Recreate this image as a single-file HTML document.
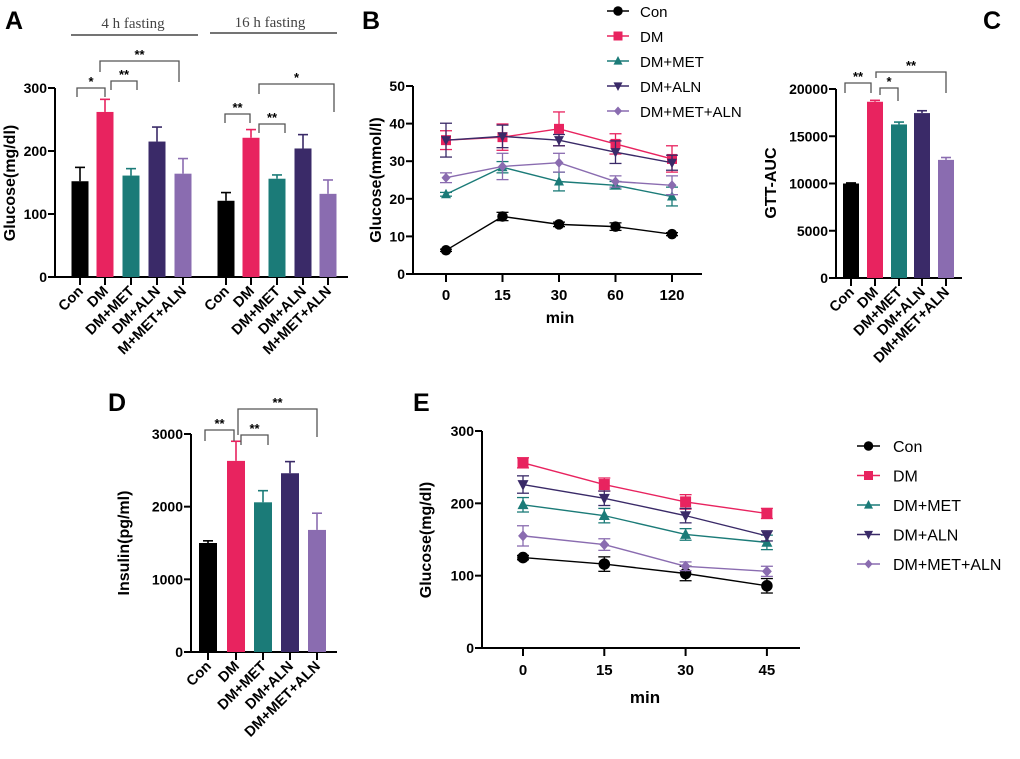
<!DOCTYPE html>
<html><head><meta charset="utf-8"><style>
html,body{margin:0;padding:0;background:#fff;}
svg{display:block;font-family:"Liberation Sans",Arial,sans-serif;}
</style></head><body>
<svg id="fig" width="1020" height="759" viewBox="0 0 1020 759" xmlns="http://www.w3.org/2000/svg"></svg>
<script>
const groups = ["Con","DM","DM+MET","DM+ALN","DM+MET+ALN"];
const groupsA = ["Con","DM","DM+MET","DM+ALN","M+MET+ALN"];
const colors = ["#000000","#e8235f","#1b7b78","#3a2a68","#8a6cb0"];
const markers = ["circle","square","tri-up","tri-down","diamond"];

const a4hMean = [152,262,161,215,164];
const a4hErr = [22,20,11,23,24];
const a16hMean = [121,221,156,204,132];
const a16hErr = [13,13,6,22,22];
const aTicks = [0,100,200,300];

const bTimes = ["0","15","30","60","120"];
const bTicks = [0,10,20,30,40,50];
const bMean = [
  [6.3,15.3,13.2,12.6,10.6],
  [35.6,36.4,38.6,34.6,30.6],
  [21.2,28.4,24.6,23.6,20.6],
  [35.6,36.6,35.6,32.4,29.6],
  [25.6,28.6,29.6,24.6,23.6]];
const bErr = [
  [0.3,1.1,0.6,1.0,0.4],
  [2.5,3.5,4.5,2.7,3.5],
  [0.5,1.5,2.5,1.0,2.5],
  [4.5,3.0,1.5,3.0,2.0],
  [1.3,3.5,2.5,1.5,2.5]];

const cMean = [10000,18650,16250,17450,12500];
const cErr = [60,150,250,250,250];
const cTicks = [0,5000,10000,15000,20000];

const dMean = [1500,2630,2060,2460,1680];
const dErr = [30,270,160,160,230];
const dTicks = [0,1000,2000,3000];

const eTimes = ["0","15","30","45"];
const eTicks = [0,100,200,300];
const eMean = [
  [125,116,103,86],
  [256,226,202,186],
  [198,183,157,146],
  [226,207,183,155],
  [155,143,113,106]];
const eErr = [
  [3,10,10,10],
  [7,9,10,7],
  [10,10,8,10],
  [12,10,10,7],
  [14,8,6,7]];

const svg = document.getElementById('fig');
const NS = "http://www.w3.org/2000/svg";
function el(tag, attrs, parent){
  const e = document.createElementNS(NS, tag);
  for (const k in attrs) e.setAttribute(k, attrs[k]);
  (parent||svg).appendChild(e);
  return e;
}
function txt(s, attrs, parent){ const t = el('text', attrs, parent); t.textContent = s; return t; }
function lin(x1,y1,x2,y2,c,w,parent){ return el('line',{x1,y1,x2,y2,stroke:c,'stroke-width':w},parent); }

function yAxis(g, x, y0, y1, vmin, vmax, ticks, fs){
  const sc = v => y0 - (v - vmin)/(vmax - vmin)*(y0 - y1);
  lin(x, y0+1, x, y1, '#000', 2, g);
  ticks.forEach(t=>{
    const y = sc(t);
    lin(x-7, y, x, y, '#000', 2, g);
    const l = txt(String(t), {x:x-8, y:y+5, 'text-anchor':'end','font-size':fs||14,'font-weight':'bold'}, g);
    
    
  });
  return sc;
}
function marker(g, type, x, y, c, s){
  let m;
  if (type==='circle') m = el('circle',{cx:x,cy:y,r:s*1.05,fill:c},g);
  else if (type==='square') m = el('rect',{x:x-s,y:y-s,width:2*s,height:2*s,fill:c},g);
  else if (type==='tri-up') m = el('polygon',{points:`${x},${y-s*1.1} ${x+s},${y+s*0.8} ${x-s},${y+s*0.8}`,fill:c},g);
  else if (type==='tri-down') m = el('polygon',{points:`${x},${y+s*1.1} ${x+s},${y-s*0.8} ${x-s},${y-s*0.8}`,fill:c},g);
  else m = el('polygon',{points:`${x},${y-s} ${x+s*0.9},${y} ${x},${y+s} ${x-s*0.9},${y}`,fill:c},g);
  
  
  return m;
}
function bracket(g, x1, x2, top, a1, a2, stars){
  el('polyline',{points:`${x1},${a1} ${x1},${top} ${x2},${top} ${x2},${a2}`,fill:'none',stroke:'#555','stroke-width':1.3},g);
  const s = txt(stars,{x:(x1+x2)/2, y:top-2,'text-anchor':'middle','font-size':13,'font-weight':'bold'},g);
  
  
}
function bars(g, centers, w, means, errs, sc, y0){
  means.forEach((v,i)=>{
    const x = centers[i], y = sc(v), ye = sc(v+errs[i]);
    lin(x, y, x, ye, colors[i], 1.6, g);
    lin(x-5, ye, x+5, ye, colors[i], 1.6, g);
    const r = el('rect',{x:x-w/2,y:y,width:w,height:y0-y,fill:colors[i]},g);
    
    
  });
}
function xCatLabels(g, centers, labels, y0, yl){
  centers.forEach((x,i)=>{
    lin(x, y0, x, y0+8, '#000', 2, g);
    const t = txt(labels[i],{x:x+4,y:yl,'text-anchor':'end','font-size':14.5,'font-weight':'bold',transform:`rotate(-45 ${x+4} ${yl})`},g);
    
    
  });
}
function rotTitle(g, s, x, y, fs){
  const t = txt(s,{x:x,y:y,'text-anchor':'middle','font-size':fs||16,'font-weight':'bold',transform:`rotate(-90 ${x} ${y})`},g);
  
  
}
function panelLetter(s,x,y){
  const t = txt(s,{x:x,y:y,'font-size':25,'font-weight':'bold'});
  
  
}
function legend(g, x0, y0, dy, lw, tx, fs){
  groups.forEach((n,i)=>{
    const y = y0 + i*dy;
    const gg = el('g',{},g);
    
    
    lin(x0, y, x0+lw, y, colors[i], 1.5, gg);
    marker(gg, markers[i], x0+lw/2, y, colors[i], 4.5);
    txt(n,{x:tx,y:y+6,'font-size':fs},gg);
  });
}
function lineChart(g, xs, means, errs, sc, s){
  means.forEach((ser,i)=>{
    const sg = el('g',{},g);
    
    
    el('polyline',{points:ser.map((v,j)=>`${xs[j]},${sc(v)}`).join(' '),fill:'none',stroke:colors[i],'stroke-width':1.4},sg);
    ser.forEach((v,j)=>{
      const x = xs[j], yt = sc(v+errs[i][j]), yb = sc(v-errs[i][j]);
      lin(x, yt, x, yb, colors[i], 1.3, sg);
      lin(x-6, yt, x+6, yt, colors[i], 1.3, sg);
      lin(x-6, yb, x+6, yb, colors[i], 1.3, sg);
      marker(sg, markers[i], x, sc(v), colors[i], s);
    });
  });
}

// ---------- Panel A ----------
panelLetter('A',5,29);
const gA = el('g',{});  
const scA = yAxis(gA, 55, 277, 88, 0, 300, aTicks);
lin(55, 277, 348, 277, '#000', 2, gA);
const cA1 = [80,105,131,157,183], cA2 = [226,251,277,303,328];
bars(gA, cA1, 17, a4hMean, a4hErr, scA, 277);
bars(gA, cA2, 17, a16hMean, a16hErr, scA, 277);
xCatLabels(gA, cA1, groupsA, 277, 292);
xCatLabels(gA, cA2, groupsA, 277, 292);
rotTitle(gA, 'Glucose(mg/dl)', 15, 183);
txt('4 h  fasting',{x:133,y:28,'text-anchor':'middle','font-size':15,'font-family':'Liberation Serif, serif',fill:'#444'},gA);
lin(71,35,198,35,'#222',1.2,gA);
txt('16 h fasting',{x:270,y:27,'text-anchor':'middle','font-size':15,'font-family':'Liberation Serif, serif',fill:'#444'},gA);
lin(210,33,337,33,'#222',1.2,gA);
bracket(gA, 77,105, 88,97,97,'*');
bracket(gA, 111,137, 81,90,90,'**');
bracket(gA, 100,179, 61,72,82,'**');
bracket(gA, 225,250, 114,123,123,'**');
bracket(gA, 259,285, 124,133,133,'**');
bracket(gA, 259,334, 84,94,112,'*');

// ---------- Panel B ----------
panelLetter('B',362,29);
const gB = el('g',{});  
const scB = yAxis(gB, 413, 274, 86, 0, 50, bTicks);
lin(413, 274, 702, 274, '#000', 2, gB);
const xB = bTimes.map((t,i)=>446 + i*56.5);
xB.forEach((x,i)=>{ lin(x,274,x,282,'#000',2,gB); txt(bTimes[i],{x:x,y:300,'text-anchor':'middle','font-size':15,'font-weight':'bold'},gB); });
txt('min',{x:560,y:323,'text-anchor':'middle','font-size':16,'font-weight':'bold'},gB);
rotTitle(gB, 'Glucose(mmol/l)', 381, 180);
lineChart(gB, xB, bMean, bErr, scB, 5);
legend(gB, 607, 11, 25, 22, 640, 15);

// ---------- Panel C ----------
panelLetter('C',983,29);
const gC = el('g',{});  
const scC = yAxis(gC, 836, 278, 89, 0, 20000, cTicks);
lin(836, 278, 962, 278, '#000', 2, gC);
const cC = [851,875,899,922,946];
bars(gC, cC, 16, cMean, cErr, scC, 278);
xCatLabels(gC, cC, groups, 278, 293);
rotTitle(gC, 'GTT-AUC', 776, 183);
bracket(gC, 845,871, 83,93,93,'**');
bracket(gC, 880,898, 88,95,101,'*');
bracket(gC, 876,946, 72,78,93,'**');

// ---------- Panel D ----------
panelLetter('D',108,411);
const gD = el('g',{});  
const scD = yAxis(gD, 191, 652, 434, 0, 3000, dTicks);
lin(191, 652, 337, 652, '#000', 2, gD);
const cD = [208,236,263,290,317];
bars(gD, cD, 18, dMean, dErr, scD, 652);
xCatLabels(gD, cD, groups, 652, 667);
rotTitle(gD, 'Insulin(pg/ml)', 129, 543);
bracket(gD, 205,234, 430,441,441,'**');
bracket(gD, 241,268, 435,445,445,'**');
bracket(gD, 238,317, 409,435,437,'**');

// ---------- Panel E ----------
panelLetter('E',413,411);
const gE = el('g',{});  
const scE = yAxis(gE, 482, 648, 431, 0, 300, eTicks);
lin(482, 648, 800, 648, '#000', 2, gE);
const xE = eTimes.map((t,i)=>523 + i*81.3);
xE.forEach((x,i)=>{ lin(x,648,x,656,'#000',2,gE); txt(eTimes[i],{x:x,y:675,'text-anchor':'middle','font-size':15,'font-weight':'bold'},gE); });
txt('min',{x:645,y:703,'text-anchor':'middle','font-size':17,'font-weight':'bold'},gE);
rotTitle(gE, 'Glucose(mg/dl)', 431, 540);
lineChart(gE, xE, eMean, eErr, scE, 5.5);
legend(gE, 857, 446, 29.5, 23, 893, 16);
</script>
</body></html>
